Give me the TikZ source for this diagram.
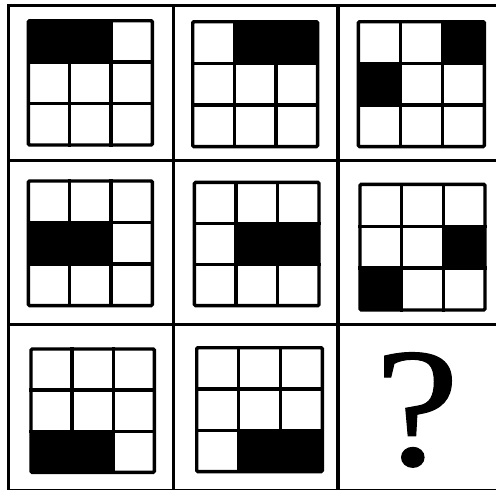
\documentclass[tikz,border=0pt]{standalone}
\usepackage{fontspec}
\newfontfamily\qfont[FakeBold=0.6]{Liberation Serif}
\tikzset{
  outerline/.style={line width=3.4pt, line cap=rect},
  innerline/.style={line width=3.4pt, line cap=rect},
  innerbox/.style={line width=3.4pt, rounded corners=1.2pt},
}
\newcommand\mgrid[5]{%
  \pgfmathsetmacro\ax{#1+1.7}\pgfmathsetmacro\ay{#2+1.7}%
  \pgfmathsetmacro\bx{#3-1.7}\pgfmathsetmacro\by{#4-1.7}%
  \pgfmathsetmacro\dx{(\bx-\ax)/3}\pgfmathsetmacro\dy{(\by-\ay)/3}%
  \foreach \c/\r in {#5}{\fill (\ax+\c*\dx-\dx,\ay+\r*\dy-\dy) rectangle ++(\dx,\dy);}%
  \foreach \i in {1,2}{%
    \draw[innerline] (\ax+\i*\dx,\ay) -- (\ax+\i*\dx,\by);
    \draw[innerline] (\ax,\ay+\i*\dy) -- (\bx,\ay+\i*\dy);}%
  \draw[innerbox] (\ax,\ay) rectangle (\bx,\by);%
}
\begin{document}
\begin{tikzpicture}[x=1pt,y=-1pt]
\useasboundingbox (0,0) rectangle (496,490);
\fill[white] (0,0) rectangle (496,490);
\begin{scope}
\clip (0,0) rectangle (496,490);
% outer grid
\foreach \xx in {8.5,173.5,338}{\draw[outerline] (\xx,5.5) -- (\xx,492);}
\foreach \yy in {5.5,160.5,324.5,490.5}{\draw[outerline] (8.5,\yy) -- (497,\yy);}
\end{scope}
% row 1
\mgrid{26.7}{19}{154}{146.7}{1/1,2/1}
\mgrid{191}{20}{319.3}{148.3}{2/1,3/1}
\mgrid{356.7}{20}{486}{148.3}{3/1,1/2}
% row 2
\mgrid{26.7}{179.3}{154}{307.3}{1/2,2/2}
\mgrid{192.7}{180.7}{320.7}{307.3}{2/2,3/2}
\mgrid{358.3}{182.7}{486.7}{311.7}{3/2,1/3}
% row 3
\mgrid{29.3}{347.3}{156}{474}{1/3,2/3}
\mgrid{195}{346}{324}{473.3}{2/3,3/3}
% question mark
\node[anchor=base, inner sep=0pt, xscale=1.12, font=\qfont\fontsize{170}{170}\selectfont] (q) at (417,465) {?};
\end{tikzpicture}
\end{document}
